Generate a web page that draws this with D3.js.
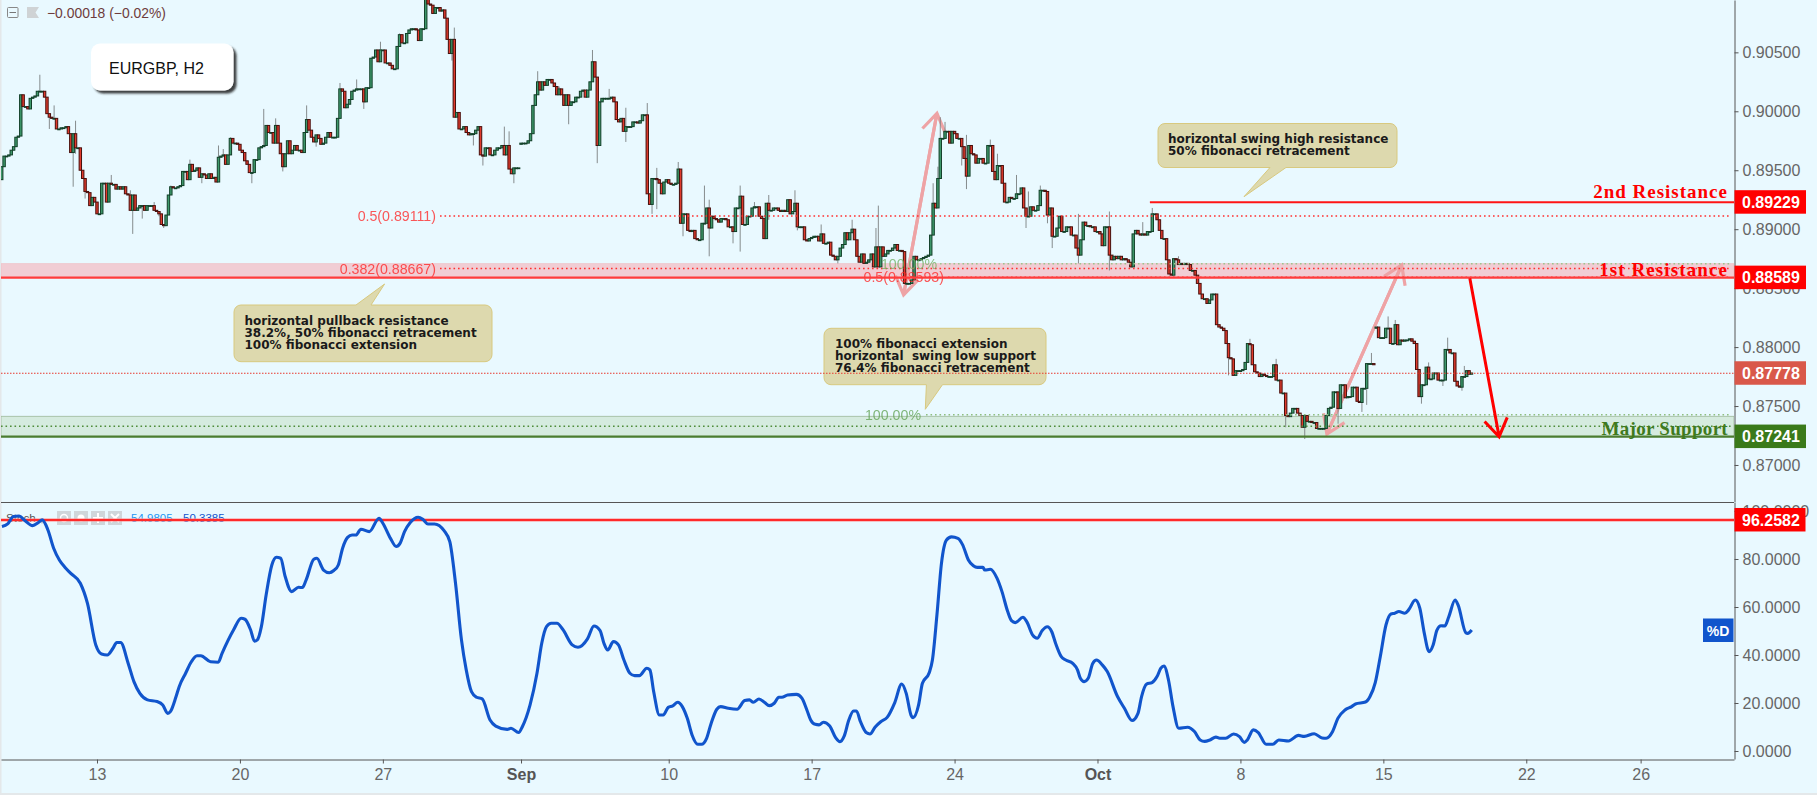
<!DOCTYPE html>
<html>
<head>
<meta charset="utf-8">
<script src="https://cdn.jsdelivr.net/npm/d3@7"></script>
<style>
  html, body { margin: 0; padding: 0; background: #e9f9ff; overflow: hidden; }
  text { font-family: "Liberation Sans", Arial, sans-serif; }
</style>
</head>
<body>
<div id="chart"></div>
<script>
// closes of each H2 bar, in 1/10000 of a point
const closePips = [
  8953,8962,8962,8963,8967,8970,8978,8979,9014,9004,
  9004,9002,9011,9012,9013,9017,9017,9017,9012,8998,
  8995,8994,8994,8985,8985,8986,8986,8987,8981,8965,
  8981,8969,8969,8950,8943,8932,8931,8920,8927,8923,
  8913,8913,8939,8939,8923,8939,8938,8938,8934,8936,
  8934,8936,8930,8929,8916,8929,8916,8918,8920,8920,
  8916,8920,8920,8920,8916,8915,8913,8904,8903,8912,
  8929,8936,8935,8935,8936,8937,8949,8949,8942,8955,
  8949,8950,8952,8944,8947,8946,8943,8947,8943,8944,
  8940,8961,8962,8963,8955,8963,8977,8973,8973,8972,
  8967,8965,8958,8955,8948,8948,8959,8959,8969,8970,
  8971,8988,8982,8982,8973,8988,8973,8964,8953,8964,
  8975,8964,8967,8971,8967,8967,8965,8982,8993,8984,
  8978,8974,8980,8977,8972,8973,8978,8982,8978,8978,
  8978,8994,9019,9017,9003,9006,9010,9017,9018,9019,
  9019,9019,9008,9020,9020,9045,9046,9052,9042,9052,
  9052,9041,9041,9039,9036,9036,9055,9065,9058,9058,
  9066,9069,9070,9070,9069,9060,9070,9070,9096,9091,
  9090,9083,9088,9088,9085,9086,9079,9061,9049,9061,
  8995,8999,8985,8985,8987,8982,8980,8981,8981,8984,
  8987,8963,8962,8969,8969,8963,8963,8967,8969,8969,
  8971,8963,8971,8951,8947,8952,8952,8952,8973,8973,
  8973,8975,8981,9005,9014,9025,9018,9025,9022,9027,
  9027,9024,9021,9014,9019,9014,9005,9014,9005,9008,
  9008,9012,9012,9017,9018,9012,9018,9025,9042,9029,
  8971,9008,9011,9011,9011,9011,9012,9008,8993,8991,
  8994,8983,8987,8987,8987,8991,8991,8990,8992,8997,
  8997,8930,8921,8943,8943,8942,8939,8930,8940,8942,
  8939,8938,8938,8939,8951,8905,8913,8913,8899,8898,
  8899,8892,8891,8891,8905,8905,8918,8901,8911,8909,
  8908,8906,8909,8909,8908,8902,8902,8898,8918,8918,
  8928,8904,8904,8911,8911,8918,8919,8919,8911,8909,
  8892,8922,8916,8916,8918,8918,8916,8915,8916,8915,
  8925,8913,8915,8922,8902,8902,8902,8891,8890,8892,
  8893,8894,8894,8890,8896,8888,8888,8889,8878,8877,
  8874,8877,8884,8887,8897,8891,8897,8900,8891,8877,
  8872,8879,8871,8872,8874,8879,8868,8885,8868,8885,
  8877,8879,8882,8882,8884,8887,8882,8882,8881,8854,
  8854,8854,8857,8877,8874,8874,8875,8876,8877,8878,
  8895,8922,8918,8943,8977,8977,8983,8983,8973,8983,
  8981,8977,8977,8970,8960,8945,8971,8964,8963,8956,
  8960,8960,8956,8956,8971,8971,8949,8942,8954,8954,
  8939,8923,8923,8927,8926,8926,8930,8930,8935,8918,
  8911,8911,8919,8916,8916,8920,8933,8933,8932,8912,
  8918,8894,8894,8901,8911,8898,8898,8902,8902,8895,
  8895,8884,8878,8891,8906,8903,8903,8902,8902,8898,
  8898,8896,8886,8902,8902,8878,8874,8877,8875,8877,
  8874,8875,8874,8872,8868,8896,8899,8896,8895,8896,
  8895,8898,8898,8913,8913,8908,8899,8892,8892,8874,
  8862,8861,8875,8874,8870,8871,8870,8871,8870,8865,
  8865,8861,8854,8845,8841,8841,8837,8840,8845,8845,
  8819,8817,8816,8814,8803,8791,8790,8776,8780,8780,
  8780,8781,8787,8803,8802,8785,8779,8778,8775,8777,
  8776,8775,8775,8775,8785,8772,8772,8761,8761,8742,
  8741,8744,8748,8748,8744,8742,8732,8742,8737,8737,
  8736,8736,8731,8731,8731,8731,8742,8748,8749,8762,
  8762,8748,8768,8768,8757,8758,8758,8766,8766,8754,
  8753,8765,8765,8786,8786,8786,8785,8817,8808,8808,
  8808,8816,8816,8803,8803,8819,8802,8806,8805,8806,
  8806,8807,8805,8803,8781,8758,8768,8768,8783,8773,
  8773,8778,8778,8772,8772,8772,8798,8798,8795,8795,
  8771,8767,8766,8775,8775,8780,8777,8778
]

// weekend gaps: these bars do not open on the previous close
const gapOpens = [[218, 8972], [577, 8816]]

// only the wicks that stand out: [bar, pips]
const highWicks = [
  [16,9031],[22,9005],[31,8992],[46,8946],[54,8933],[64,8923],[71,8937],[79,8959],[91,8971],[93,8968],
  [96,8978],[110,9002],[115,8994],[128,9005],[142,9024],[149,9027],[159,9059],[167,9066],[190,9071],[211,8987],
  [213,8983],[225,9034],[234,9021],[248,9052],[255,9019],[262,9003],[271,9007],[275,8952],[284,8957],[295,8937],
  [297,8925],[310,8937],[316,8923],[322,8929],[333,8933],[344,8904],[357,8908],[367,8901],[368,8920],[391,8939],
  [393,8953],[394,8995],[396,8991],[405,8980],[415,8976],[418,8964],[426,8946],[431,8932],[436,8937],[452,8913],
  [465,8915],[479,8906],[483,8918],[494,8877],[524,8807],[535,8790],[575,8795],[582,8826],[585,8823],[599,8787],
  [607,8808],[614,8784]
]
const lowWicks = [
  [20,8985],[30,8936],[31,8964],[35,8926],[38,8920],[55,8896],[59,8909],[66,8911],[68,8901],[84,8939],
  [105,8939],[118,8949],[132,8970],[152,9002],[189,9043],[198,8971],[202,8954],[215,8939],[238,8989],[250,8956],
  [261,8983],[262,8974],[273,8913],[275,8917],[286,8894],[297,8877],[307,8888],[310,8881],[322,8908],[334,8899],
  [351,8871],[403,8954],[405,8934],[430,8901],[439,8905],[441,8884],[452,8871],[465,8865],[515,8776],[539,8732],
  [547,8722],[561,8735],[571,8745],[573,8751],[596,8752],[605,8767],[613,8763]
]

// %D line, bar position and value
const stochBars = [
  0.1,2.5,4.9,7.3,9.7,13,15.4,17,19.4,21.8,24.2,26.6,29,33,36,39.5,41.9,44.3,46.7,48.3,49.9,53.1,55.5,58,61.2,65.2,67.6,69.7,70.8,73.2,
  74.5,77.2,79.6,82,83.6,87.7,90.9,92.5,97.3,100.5,102.1,104.5,106.1,107.3,109,111,113.4,115.3,117.1,119,121.7,124.6,126.2,127.8,131,132.3,135.1,137.5,139.4,141.3,
  143.1,145.2,147.1,148.7,150.8,154.3,158.4,160,163.2,165.6,167.2,169.1,171.5,174.8,176.8,178.9,181.7,185.7,188.1,190.5,193,195,197.2,199.3,201.7,205,207.4,212.2,213.8,217,
  218.6,221.8,224.7,226.7,228.7,230.7,233.1,235.5,239.5,241.9,245.9,248.6,251.2,252.8,254.4,256.8,258.9,261.2,263.7,265.7,267.7,270.8,272.1,273.7,276.1,277.7,279.8,281.7,283.8,285.7,
  287.8,289.8,292.2,293.8,295.9,297.8,300.2,301.8,305,308.7,311.9,313.9,315.5,317.9,320.3,322.2,324.3,326.2,327.5,329.9,333.6,335.9,338,339.6,341.5,343.1,344.9,347.6,350,351.9,
  353.7,355.6,357.6,358.8,360.5,362.9,364.5,366.6,369,371.7,374.9,377.8,379.7,381.7,382.6,384.9,386.5,389.4,390.7,392.6,394.5,396.6,398.7,401.4,403.4,405.8,407.9,409.5,411.9,412.7,
  415,417.8,419.9,422.3,423.9,425.5,428.7,430.3,432.8,434.7,436.8,438.9,440.8,442.4,444.8,446.7,449.6,451.6,452.8,454.4,456.1,458,459.6,462,464.1,468.4,471.3,474.5,477,478.5,
  480.6,482.9,485,486.6,487.9,489.8,491.7,494.1,497.8,500.7,503.1,505,507.2,509.7,511.3,513.8,517.1,519.6,521.6,522.9,525.4,527.5,530.8,533.6,536.1,540.2,544.4,546.8,551,554.3,
  556,558.7,560.9,563.9,566.7,568.3,572.5,574.4,576.6,578.7,581.1,583.2,584.8,586.5,589,590.6,593.4,595.3,597.2,599.2,600.9,602.5,604.2,605.8,607.5,610.1,611.4,614.6,615.4,617.1
]
const stochD = [
  93.5,94.6,97.7,97.9,96,93.9,95.2,96.3,92.1,84.5,79.6,76.5,74,69.9,61.5,44.2,40.4,40,42.8,45.2,45.2,36.5,28.9,24,21.3,20.6,19.2,15.7,16.4,22.7,
  26.8,32.4,37.2,39.7,39.7,37.2,37,40.7,50.4,55.3,54.9,50.4,45.8,46.3,51.8,65,77.5,80.7,80.3,72.7,66.4,68.2,68.1,71.3,79.9,80.3,75.4,74.3,75.2,77.5,
  84.5,89,90,90,92.4,91.4,97,94.9,88.6,85.2,86.5,91.4,95.2,97.4,96.5,94.6,94.6,91.8,87.2,69.9,46.3,33.8,24.7,22.4,21.7,12.9,10.4,9,9.5,7.7,
  10.2,19.2,32.4,44.9,51.8,53.2,53.2,50.7,44.2,43.2,46.7,52.1,50.2,44.9,42.1,45.6,44.2,37.9,32.4,31.4,31.4,34.5,33.8,24.7,15,15,18.2,18.8,20.3,18.5,
  13.6,6.7,2.8,2.8,5.3,11.5,17.4,18.5,17.8,17.4,21,21.3,20.3,21.7,20.2,18.9,19.9,22.4,22.4,23.3,23.6,22,17.1,12.9,11.1,10.9,12,10.4,5.7,3.9,
  6.3,12.9,16.7,16.7,12.2,7.7,7.1,9.9,12.2,14,20.2,27.9,24,15,13.9,19.2,28.2,32.7,37.9,56.7,78.2,87.9,89.2,88.6,85.9,79.6,77.2,76.5,76.5,75.4,
  75.7,72,66.4,58.1,54.3,53.5,55.7,53.9,48.3,47,50.2,51.8,49.7,44.9,39.3,37.9,36.5,33.8,30.3,28.9,30.3,36.5,37.9,35.9,33.1,22.7,17.8,12.7,15.7,22.7,
  27.9,28.5,31,34.5,35.4,29.6,18.5,9.5,9.9,8.1,4.6,4,4.6,5.8,5.3,5.3,7.1,6,3.6,4.6,8.8,7.7,2.8,2.8,4.6,4.2,6.5,6.1,7.2,5.4,
  5.3,8.1,13.6,17.1,18.5,19.6,20.4,22.7,28.5,39.3,52.5,57.1,57.4,58.1,57.4,58.8,62.9,59.5,49,41.4,44.2,50.4,52.2,52.1,56,62.9,60.8,49.3,49,50.4
]

const priceTicks = [0.905, 0.9, 0.895, 0.89, 0.885, 0.88, 0.875, 0.87]
const stochTicks = [0, 20, 40, 60, 80, 100]
const dateTickBars = [40, 100, 160, 218, 280, 340, 400, 460, 520, 580, 640, 688]
const dateTickLabels = ['13', '20', '27', 'Sep', '10', '17', '24', 'Oct', '8', '15', '22', '26']

const secondResistance = 0.89229
const firstResistance = 0.88589
const majorSupport = 0.87241
const lastPrice = 0.87778
const stochLevel = 96.2582

// pale arrows and the red one: bar and price at both ends
const paleArrows = [
  [378.6, 0.88442, 392.6, 0.89983],
  [587.7, 0.88696, 556.3, 0.87263]
]
const redArrow = [616.3, 0.88583, 628.6, 0.8724]

const width = 1817, height = 795
const axisX = 1734, paneBottom = 502.5, dateAxisY = 759

const x = d3.scaleLinear().domain([-0.3, 727.2]).range([1, axisX])
const y = d3.scaleLinear().domain([0.90944, 0.86686]).range([0, 502])
const yStoch = d3.scaleLinear().domain([103.54, -3.33]).range([paneBottom, dateAxisY])

const bg = '#e9f9ff'
const levelFont = '"Liberation Serif", serif'

const svg = d3.select('#chart').append('svg')
  .attr('width', width).attr('height', height)
  .style('display', 'block')
  .style('background', bg)

const defs = svg.append('defs')
defs.append('clipPath').attr('id', 'pricePane').append('rect')
  .attr('x', 1).attr('y', 0).attr('width', axisX - 1).attr('height', paneBottom)
defs.append('clipPath').attr('id', 'stochPane').append('rect')
  .attr('x', 1).attr('y', paneBottom).attr('width', axisX - 1).attr('height', dateAxisY - paneBottom)
const blur = defs.append('filter').attr('id', 'boxShadow')
  .attr('x', '-10%').attr('y', '-20%').attr('width', '125%').attr('height', '150%')
blur.append('feDropShadow').attr('dx', 3).attr('dy', 3).attr('stdDeviation', 1.2)
  .attr('flood-color', '#222').attr('flood-opacity', 0.85)

svg.append('rect').attr('x', 0).attr('y', 0).attr('width', 1.5).attr('height', height).attr('fill', '#e4e8ea')
svg.append('rect').attr('x', 0).attr('y', 793).attr('width', width).attr('height', 2).attr('fill', '#e4e8ea')

const pricePane = svg.append('g').attr('clip-path', 'url(#pricePane)')

// zones behind the candles
pricePane.append('rect')
  .attr('x', x.range()[0]).attr('width', axisX - 1)
  .attr('y', y(0.88707)).attr('height', y(firstResistance) - y(0.88707))
  .attr('fill', '#f1cdd4').attr('stroke', '#f2b8bd').attr('stroke-width', 0.6)
pricePane.append('rect')
  .attr('x', x.range()[0]).attr('width', axisX - 1)
  .attr('y', y(0.87413)).attr('height', y(majorSupport) - y(0.87413))
  .attr('fill', '#d5ebdf').attr('stroke', '#9db99a').attr('stroke-width', 0.8)

function arrowPath(g, a, color, w) {
  const x0 = x(a[0]), y0 = y(a[1]), x1 = x(a[2]), y1 = y(a[3])
  const angle = Math.atan2(y1 - y0, x1 - x0)
  const head = 21, spread = 0.58
  const line = d3.path()
  line.moveTo(x0, y0)
  line.lineTo(x1, y1)
  line.moveTo(x1 - head * Math.cos(angle - spread), y1 - head * Math.sin(angle - spread))
  line.lineTo(x1, y1)
  line.lineTo(x1 - head * Math.cos(angle + spread), y1 - head * Math.sin(angle + spread))
  g.append('path').attr('d', line.toString())
    .attr('fill', 'none').attr('stroke', color).attr('stroke-width', w)
}

paleArrows.forEach(a => arrowPath(pricePane, a, '#eea3a5', 3.2))
arrowPath(pricePane, [paleArrows[0][2], paleArrows[0][3], paleArrows[0][0], paleArrows[0][1]], '#eea3a5', 3.2)
arrowPath(pricePane, [paleArrows[1][2], paleArrows[1][3], paleArrows[1][0], paleArrows[1][1]], '#eea3a5', 3.2)

// candles
const highs = new Map(highWicks)
const lows = new Map(lowWicks)
const gaps = new Map(gapOpens)
const candles = closePips.map((c, i) => {
  const open = gaps.has(i) ? gaps.get(i) : (i ? closePips[i - 1] : 8942)
  return {
    i: i,
    open: open / 1e4,
    close: c / 1e4,
    high: Math.max(open, c, highs.get(i) || 0) / 1e4,
    low: Math.min(open, c, lows.get(i) || 99999) / 1e4
  }
})

const candleG = pricePane.append('g')
candleG.selectAll('line').data(candles).join('line')
  .attr('x1', d => x(d.i)).attr('x2', d => x(d.i))
  .attr('y1', d => y(d.high)).attr('y2', d => y(d.low))
  .attr('stroke', '#7b7f80').attr('stroke-width', 0.9)
candleG.selectAll('rect').data(candles).join('rect')
  .attr('x', d => x(d.i) - 1.2)
  .attr('width', 2.4)
  .attr('y', d => y(Math.max(d.open, d.close)))
  .attr('height', d => Math.max(0.8, Math.abs(y(d.open) - y(d.close))))
  .attr('fill', d => d.close >= d.open ? '#3f9a6c' : '#e03a2c')
  .attr('stroke', d => d.close >= d.open ? '#123f28' : '#470f0c')
  .attr('stroke-width', 1)

// fibonacci levels
function dotted(price, fromX, color, w) {
  pricePane.append('line')
    .attr('x1', fromX).attr('x2', axisX - 3)
    .attr('y1', y(price)).attr('y2', y(price))
    .attr('stroke', color).attr('stroke-width', w || 1.5)
    .attr('stroke-dasharray', '1.6 2.9')
}
function fibText(price, right, label, color) {
  pricePane.append('text')
    .attr('x', right).attr('y', y(price)).attr('dy', '0.36em')
    .attr('text-anchor', 'end')
    .attr('font-size', 14.2).attr('fill', color).attr('opacity', 0.75)
    .text(label)
}

dotted(0.89111, 440, '#ff3030')
fibText(0.89111, 436, '0.5(0.89111)', '#ff2020')
dotted(0.88667, 440, '#ff3030')
fibText(0.88667, 436, '0.382(0.88667)', '#ff2020')
dotted(0.88593, 948, '#ff3030')
fibText(0.88593, 944, '0.5(0.88593)', '#ff2020')
dotted(0.88707, 940, '#9dc48e')
fibText(0.88707, 937, '100.00%', '#6fb060')
dotted(0.87427, 926, '#8fbf80')
fibText(0.87427, 921, '100.00%', '#5ea050')
dotted(0.87329, 1, '#4f8c3a')

// callouts
function bubble(x0, y0, x1, y1, r, baseA, baseB, tipX, tipY, onTop) {
  const p = d3.path()
  p.moveTo(x0 + r, y0)
  if (onTop) {
    p.lineTo(baseA, y0)
    p.lineTo(tipX, tipY)
    p.lineTo(baseB, y0)
  }
  p.arcTo(x1, y0, x1, y0 + r, r)
  p.arcTo(x1, y1, x1 - r, y1, r)
  if (!onTop) {
    p.lineTo(baseB, y1)
    p.lineTo(tipX, tipY)
    p.lineTo(baseA, y1)
  }
  p.arcTo(x0, y1, x0, y1 - r, r)
  p.arcTo(x0, y0, x0 + r, y0, r)
  p.closePath()
  svg.append('path').attr('d', p.toString())
    .attr('fill', '#ddd9ae').attr('stroke', '#d8c97f').attr('stroke-width', 1)
}
function bubbleText(tx, baselines, lines) {
  lines.forEach((t, k) => {
    svg.append('text').attr('x', tx).attr('y', baselines[k])
      .style('font-family', '"DejaVu Sans", sans-serif')
      .attr('font-size', 12).attr('font-weight', 'bold').attr('fill', '#1a1a1a')
      .style('white-space', 'pre')
      .text(t)
  })
}

bubble(1158, 123.5, 1397, 167.5, 7, 1270, 1286, 1244, 196.7, false)
bubbleText(1168, [143, 155], ['horizontal swing high resistance', '50% fibonacci retracement'])
bubble(234, 305, 492, 361.7, 7, 356, 371, 384.6, 284, true)
bubbleText(244.5, [325, 337, 349], ['horizontal pullback resistance', '38.2%, 50% fibonacci retracement', '100% fibonacci extension'])
bubble(824, 328.3, 1046, 384.7, 7, 926.4, 942.5, 925.3, 409.3, false)
bubbleText(835, [348, 360, 372], ['100% fibonacci extension', 'horizontal  swing low support', '76.4% fibonacci retracement'])

// solid levels
const levelG = svg.append('g').attr('clip-path', 'url(#pricePane)')
levelG.append('line').attr('x1', x(482)).attr('x2', axisX)
  .attr('y1', y(secondResistance)).attr('y2', y(secondResistance))
  .attr('stroke', '#ff1515').attr('stroke-width', 2)
levelG.append('line').attr('x1', 1).attr('x2', axisX)
  .attr('y1', y(firstResistance)).attr('y2', y(firstResistance))
  .attr('stroke', '#ff3b3b').attr('stroke-width', 2.4)
levelG.append('line').attr('x1', 1).attr('x2', axisX)
  .attr('y1', y(majorSupport)).attr('y2', y(majorSupport))
  .attr('stroke', '#4a7c2f').attr('stroke-width', 2.2)
levelG.append('line').attr('x1', 1).attr('x2', axisX)
  .attr('y1', y(lastPrice)).attr('y2', y(lastPrice))
  .attr('stroke', '#e8392e').attr('stroke-width', 1)
  .attr('stroke-dasharray', '1.5 1.5')

arrowPath(levelG, redArrow, '#ff0000', 3)

function levelName(price, dy, label, color, spacing) {
  svg.append('text')
    .attr('x', 1728).attr('y', y(price) + dy)
    .attr('text-anchor', 'end')
    .style('font-family', levelFont)
    .style('letter-spacing', spacing + 'px')
    .attr('font-size', 19).attr('font-weight', 'bold').attr('fill', color)
    .text(label)
}
levelName(secondResistance, -4, '2nd Resistance', '#ff0000', 1)
levelName(firstResistance, -2, '1st Resistance', '#ff0000', 1.1)
levelName(majorSupport, -2, 'Major Support', '#3f7a1e', 0.3)

// header
svg.append('rect').attr('x', 7.5).attr('y', 7.5).attr('width', 10.5).attr('height', 10)
  .attr('fill', 'none').attr('stroke', '#888').attr('rx', 1)
svg.append('line').attr('x1', 9.5).attr('x2', 16).attr('y1', 12.5).attr('y2', 12.5).attr('stroke', '#777')
svg.append('path').attr('d', 'M27,7H39L35.5,12.5L39,18H27Z').attr('fill', '#cfd3d5')
svg.append('text').attr('x', 47).attr('y', 18).attr('font-size', 13.9).attr('fill', '#6e3c3c')
  .text('\u22120.00018 (\u22120.02%)')

svg.append('rect').attr('x', 91).attr('y', 43.5).attr('width', 142.5).attr('height', 47)
  .attr('rx', 9).attr('fill', '#fff').attr('filter', 'url(#boxShadow)')
svg.append('text').attr('x', 109).attr('y', 73.5).attr('font-size', 16).attr('fill', '#111')
  .text('EURGBP, H2')

// stochastic pane
svg.append('text').attr('x', 6).attr('y', 522).attr('font-size', 11.6).attr('fill', '#555').text('Stoch')
svg.append('path').attr('d', 'M38,519H46L42,524Z').attr('fill', '#c4c9cc')
const legendBoxes = [57, 74, 91, 108]
svg.selectAll('rect.legendBox').data(legendBoxes).join('rect')
  .attr('class', 'legendBox')
  .attr('x', d => d).attr('y', 511).attr('width', 14).attr('height', 14)
  .attr('fill', '#cfd6da')
svg.append('circle').attr('cx', 64).attr('cy', 518).attr('r', 3.5).attr('fill', 'none').attr('stroke', '#fff').attr('stroke-width', 1.5)
svg.append('circle').attr('cx', 81).attr('cy', 518).attr('r', 3.5).attr('fill', '#fff')
svg.append('path').attr('d', 'M98,513V523M93,518H103').attr('stroke', '#fff').attr('stroke-width', 2)
svg.append('path').attr('d', 'M111,514L119,522M119,514L111,522').attr('stroke', '#fff').attr('stroke-width', 2)
svg.append('text').attr('x', 131).attr('y', 522).attr('font-size', 11.5).attr('fill', '#2196f3').text('54.9805')
svg.append('text').attr('x', 183).attr('y', 522).attr('font-size', 11.5).attr('fill', '#1155cc').text('50.3385')

const stochPane = svg.append('g').attr('clip-path', 'url(#stochPane)')
stochPane.append('line').attr('x1', 1).attr('x2', axisX)
  .attr('y1', yStoch(stochLevel)).attr('y2', yStoch(stochLevel))
  .attr('stroke', '#ff8a8a').attr('stroke-width', 3)
stochPane.append('line').attr('x1', 1).attr('x2', axisX)
  .attr('y1', yStoch(stochLevel)).attr('y2', yStoch(stochLevel))
  .attr('stroke', '#ff0a0a').attr('stroke-width', 1.5)

const stochLine = d3.line().x(d => x(d[0])).y(d => yStoch(d[1])).curve(d3.curveMonotoneX)
stochPane.append('path')
  .attr('d', stochLine(stochBars.map((b, k) => [b, stochD[k]])))
  .attr('fill', 'none').attr('stroke', '#1155cc').attr('stroke-width', 3.1)
  .attr('stroke-linejoin', 'round')

// axes
function styleAxis(g) {
  g.selectAll('path,line').attr('stroke', '#555').attr('stroke-width', 1)
  g.selectAll('text').attr('fill', '#666').attr('font-size', 16)
    .style('font-family', '"Liberation Sans", Arial, sans-serif')
}

const priceAxis = svg.append('g').attr('transform', `translate(${axisX + 0.5},0)`)
  .call(d3.axisRight(y).tickValues(priceTicks).tickFormat(d => d.toFixed(5)).tickSize(4).tickPadding(4).tickSizeOuter(0))
priceAxis.call(styleAxis)

const stochAxis = svg.append('g').attr('transform', `translate(${axisX + 0.5},0)`)
  .call(d3.axisRight(yStoch).tickValues(stochTicks).tickFormat(d => d.toFixed(4)).tickSize(4).tickPadding(4).tickSizeOuter(0))
stochAxis.call(styleAxis)

const dateAxis = svg.append('g').attr('transform', `translate(0,${dateAxisY + 0.5})`)
  .call(d3.axisBottom(x).tickValues(dateTickBars)
    .tickFormat(d => dateTickLabels[dateTickBars.indexOf(d)]).tickSize(4).tickPadding(5).tickSizeOuter(0))
dateAxis.call(styleAxis)
dateAxis.selectAll('text')
  .attr('font-weight', d => (d === 218 || d === 460) ? 'bold' : 'normal')
  .attr('fill', d => (d === 218 || d === 460) ? '#555' : '#666')

svg.append('line').attr('x1', 1).attr('x2', axisX).attr('y1', paneBottom).attr('y2', paneBottom)
  .attr('stroke', '#555').attr('stroke-width', 1)

// price tags on the axis
function tag(value, digits, top, w, fill) {
  const scale = digits === 5 ? y : yStoch
  const cy = scale(value)
  svg.append('rect').attr('x', axisX + 0.5).attr('y', cy + top).attr('width', w).attr('height', 23.5).attr('fill', fill)
  svg.append('text').attr('x', axisX + 8).attr('y', cy + top + 12).attr('dy', '0.36em')
    .attr('font-size', 16).attr('font-weight', 'bold').attr('fill', '#fff')
    .text(value.toFixed(digits))
}
tag(secondResistance, 5, -12, 71.5, '#ff0000')
tag(firstResistance, 5, -12, 71.5, '#ff0000')
tag(lastPrice, 5, -12, 71.5, '#d9584a')
tag(majorSupport, 5, -12, 71.5, '#3a7a1a')
tag(stochLevel, 4, -12, 71, '#ff0000')

svg.append('rect').attr('x', 1703).attr('y', 618.5).attr('width', 30.5).attr('height', 23.5).attr('fill', '#1155cc')
svg.append('text').attr('x', 1718).attr('y', 630.5).attr('dy', '0.36em').attr('text-anchor', 'middle')
  .attr('font-size', 14).attr('font-weight', 'bold').attr('fill', '#fff').text('%D')
</script>
</body>
</html>
